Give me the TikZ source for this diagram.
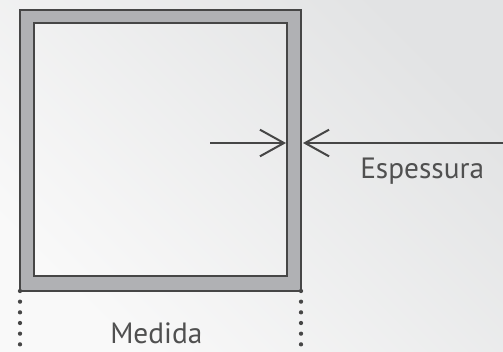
\documentclass[tikz,border=0pt]{standalone}
\usepackage{fontspec}
\setmainfont{PT Sans}
\usetikzlibrary{arrows.meta, positioning}
\definecolor{wallgray}{RGB}{176,177,180}
\definecolor{edgegray}{RGB}{70,70,70}
\definecolor{textgray}{RGB}{80,80,80}
\definecolor{bglight}{RGB}{249,249,249}
\definecolor{bgdark}{RGB}{226,227,228}
\tikzset{
wall/.style={fill=wallgray, even odd rule}, % grey band between the two squares
edge/.style={draw=edgegray, line width=1.6pt},
pointer/.style={draw=edgegray, line width=1.5pt, -{Straight Barb[length=18pt,width=20pt]}},
dots/.style={draw=edgegray, line width=3.2pt, line cap=round, dash pattern=on 0pt off 8pt},
texto/.style={font=\fontsize{22}{26}\selectfont, text=textgray, inner sep=0pt, anchor=base west}
}

\begin{document}
\begin{tikzpicture}[x=0.75pt, y=-0.75pt]
        % background
        \shade[top color=bgdark, bottom color=bglight, shading angle=-45] (0,0) rectangle (503,351);
        \useasboundingbox (0,0) rectangle (503,351);
        % frame
        \coordinate (outerNW) at (20,10);
        \coordinate (outerSE) at (301,291);
        \coordinate (innerNW) at (34,23);
        \coordinate (innerSE) at (287,276);
        \path[wall] (outerNW) rectangle (outerSE) (innerNW) rectangle (innerSE);
        \draw[edge] (outerNW) rectangle (outerSE);
        \draw[edge] (innerNW) rectangle (innerSE);
        % thickness
        \coordinate (leftstart) at (210,143);
        \coordinate (wallin) at (286,143);
        \coordinate (wallout) at (303,143);
        \coordinate (rightstart) at (504,143);
        \draw[pointer] (leftstart) -- (wallin);
        \draw[pointer] (rightstart) -- (wallout);
        \node[texto] (espessura) at (360,178) {Espessura};
        % size
        \coordinate (dotsL) at (20,291);
        \coordinate (dotsR) at (301,291);
        \draw[dots] (dotsL) -- ++(0,62);
        \draw[dots] (dotsR) -- ++(0,62);
        \node[texto] (medida) at (110,343) {Medida};
\end{tikzpicture}
\end{document}
